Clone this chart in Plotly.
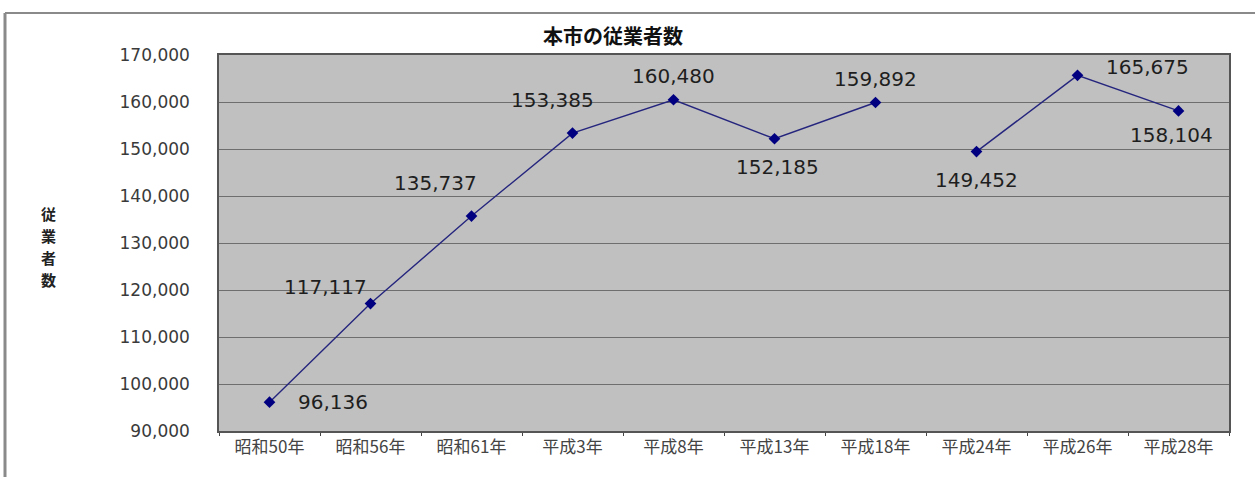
import plotly.graph_objects as go

# 調査年と従業者数
years = ["昭和50年", "昭和56年", "昭和61年", "平成3年", "平成8年",
         "平成13年", "平成18年", "平成24年", "平成26年", "平成28年"]
workers = [96136, 117117, 135737, 153385, 160480,
           152185, 159892, 149452, 165675, 158104]
# 平成24年から調査方式が変わるため線を切る位置
break_at = 7

y_ticks = list(range(90000, 170001, 10000))

# データラベルのずらし量 (px)
label_dx = [63, -45, -36, -20, 0, 3, 0, 0, 70, -7]
label_dy = [0, 17, 33, 33, 24, -28, 24, -28, 8, -24]

W, H = 1255, 477
L, R, T, B = 219, 1229, 55, 431


def px_x(px):
    return (px - L) / (R - L)


def px_y(py):
    return (B - py) / (B - T)


line_style = dict(color="#25257e", width=1.4)
marker_style = dict(symbol="diamond", size=9, color="#000080")

fig = go.Figure()
for xs, ys in [(years[:break_at], workers[:break_at]),
               (years[break_at:], workers[break_at:])]:
    fig.add_trace(go.Scatter(x=xs, y=ys, mode="lines+markers",
                             line=line_style, marker=marker_style,
                             showlegend=False, hoverinfo="x+y"))

annotations = []
for x, v, dx, dy in zip(years, workers, label_dx, label_dy):
    annotations.append(dict(
        x=x, y=v, xref="x", yref="y", text=f"{v:,}", showarrow=False,
        xshift=dx, yshift=dy,
        font=dict(family="DejaVu Sans", size=20, color="#1e1e1e")))

annotations.append(dict(
    x=px_x(613), y=px_y(35), xref="paper", yref="paper",
    xanchor="center", yanchor="middle",
    text="<b>本市の従業者数</b>", showarrow=False,
    font=dict(family="Noto Sans CJK JP", size=20, color="#111")))

# 縦書きの軸タイトル (1文字ずつ配置)
axis_title = "従業者数"
title_top, title_step = 213, 22
for i, ch in enumerate(axis_title):
    annotations.append(dict(
        x=px_x(48), y=px_y(title_top + i * title_step),
        xref="paper", yref="paper", xanchor="center", yanchor="middle",
        text=f"<b>{ch}</b>", showarrow=False,
        font=dict(family="Noto Sans CJK JP", size=15, color="#222")))

shapes = [
    # 外枠 (左・上)
    dict(type="line", xref="paper", yref="paper",
         x0=px_x(5), x1=px_x(5), y0=px_y(13), y1=px_y(480),
         line=dict(color="#8a8a8a", width=3)),
    dict(type="line", xref="paper", yref="paper",
         x0=px_x(5), x1=px_x(1256), y0=px_y(13), y1=px_y(13),
         line=dict(color="#8a8a8a", width=2)),
]

fig.update_layout(
    width=W, height=H,
    margin=dict(l=L, r=W - R, t=T, b=H - B),
    paper_bgcolor="white", plot_bgcolor="#c0c0c0",
    annotations=annotations, shapes=shapes,
    xaxis=dict(type="category", categoryorder="array", categoryarray=years,
               range=[-0.5, len(years) - 0.5],
               showline=True, linecolor="#555", linewidth=1.5, mirror=True,
               showgrid=False, ticks="outside", tickson="boundaries",
               ticklen=3, tickcolor="#444",
               tickfont=dict(family="Noto Sans CJK JP", size=17, color="#444")),
    yaxis=dict(range=[90000, 170000], tickvals=y_ticks,
               ticktext=[f"{v:,}" for v in y_ticks],
               showline=True, linecolor="#555", linewidth=1.5, mirror=True,
               showgrid=True, gridcolor="#6e6e6e", gridwidth=1,
               zeroline=False, ticks="", ticklabelstandoff=24,
               tickfont=dict(family="DejaVu Sans", size=17, color="#3a3a3a")),
)

fig.write_html("out.html")
